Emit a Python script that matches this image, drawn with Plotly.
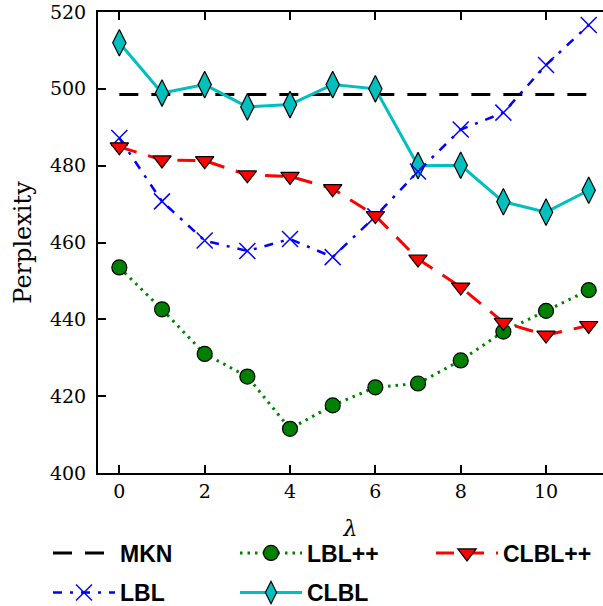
import plotly.graph_objects as go

lam = [0, 1, 2, 3, 4, 5, 6, 7, 8, 9, 10, 11]
mkn = [498.5] * 12
lbl = [487.2, 470.7, 460.5, 457.8, 460.9, 456.2, 466.8, 478.5, 489.4, 493.8, 506.2, 516.6]
lblpp = [453.5, 442.6, 431.0, 425.1, 411.5, 417.6, 422.3, 423.3, 429.3, 436.8, 442.2, 447.6]
clbl = [512.0, 498.9, 501.1, 495.3, 495.9, 501.1, 500.0, 480.0, 480.1, 470.6, 467.9, 473.6]
clblpp = [484.9, 481.5, 481.3, 477.6, 477.2, 474.0, 467.0, 455.7, 448.4, 439.2, 435.9, 438.4]

W, H = 603, 606
ML, MR, MT, MB = 98, 0, 12, 133
PW = W - ML - MR
PH = H - MT - MB

def px2x(px):
    return (px - ML) / PW

def py2y(py):
    return (H - MB - py) / PH

fig = go.Figure()

fig.add_trace(go.Scatter(
    x=lam, y=mkn, name="MKN", mode="lines",
    line=dict(color="black", width=3, dash="19px,13px"),
    legend="legend"))

fig.add_trace(go.Scatter(
    x=lam, y=lblpp, name="LBL++", mode="lines+markers",
    line=dict(color="#008000", width=3, dash="2.5px,5px"),
    marker=dict(symbol="circle", size=15, color="#008000",
                line=dict(color="black", width=1.2)),
    legend="legend2"))

fig.add_trace(go.Scatter(
    x=lam, y=clbl, name="CLBL", mode="lines+markers",
    line=dict(color="#00BFBF", width=3),
    marker=dict(symbol="diamond-tall", size=19, color="#00BFBF",
                line=dict(color="black", width=1.2)),
    legend="legend4"))

fig.add_trace(go.Scatter(
    x=lam, y=lbl, name="LBL", mode="lines+markers",
    line=dict(color="#0000FF", width=2.5, dash="9px,8px,3px,8px"),
    marker=dict(symbol="x-thin-open", size=16, color="#0000FF",
                line=dict(color="#0000FF", width=1.5)),
    legend="legend5"))

fig.add_trace(go.Scatter(
    x=lam, y=clblpp, name="CLBL++", mode="lines+markers",
    line=dict(color="#FF0000", width=3, dash="18px,12px"),
    marker=dict(symbol="triangle-down", size=16, color="#FF0000",
                line=dict(color="black", width=1.2)),
    legend="legend3"))

legfont = dict(family="Liberation Sans", size=23, color="black", weight="bold")
row1, row2 = 553, 592.5
col1, col2, col3 = 48, 235, 431

def leg(px, py):
    return dict(x=px2x(px), y=py2y(py), xanchor="left", yanchor="middle",
                font=legfont, bgcolor="rgba(0,0,0,0)", borderwidth=0,
                itemwidth=62, orientation="v")

tickfont = dict(family="DejaVu Serif", size=19, color="black")

fig.update_layout(
    width=W, height=H,
    margin=dict(l=ML, r=MR, t=MT, b=MB, pad=0, autoexpand=False),
    paper_bgcolor="white", plot_bgcolor="white",
    showlegend=True,
    legend=leg(col1, row1),
    legend2=leg(col2, row1),
    legend3=leg(col3, row1),
    legend4=leg(col2, row2),
    legend5=leg(col1, row2),
    xaxis=dict(
        range=[-0.5, -0.5 + PW / 42.67],
        tickvals=[0, 2, 4, 6, 8, 10],
        ticks="inside", ticklen=8, tickwidth=1.5, tickcolor="black",
        showline=True, linewidth=2, linecolor="black", mirror="ticks",
        showgrid=False, zeroline=False,
        tickfont=tickfont, ticklabelstandoff=0,
        title=dict(text="<i>λ</i>", font=dict(family="DejaVu Serif", size=22, color="black"), standoff=20),
    ),
    yaxis=dict(
        range=[400, 520], dtick=20,
        ticks="inside", ticklen=8, tickwidth=1.5, tickcolor="black",
        showline=True, linewidth=2, linecolor="black", mirror=False,
        showgrid=False, zeroline=False,
        tickfont=tickfont, ticklabelstandoff=6,
        title=dict(text="Perplexity", font=dict(family="DejaVu Serif", size=24, color="black"), standoff=12),
    ),
    yaxis2=dict(
        overlaying="y", side="right", anchor="x",
        range=[400, 520], dtick=20,
        ticks="inside", ticklen=8, tickwidth=1.5, tickcolor="black",
        showline=False, showgrid=False, zeroline=False, showticklabels=False,
    ),
)

fig.write_html("out.html")
